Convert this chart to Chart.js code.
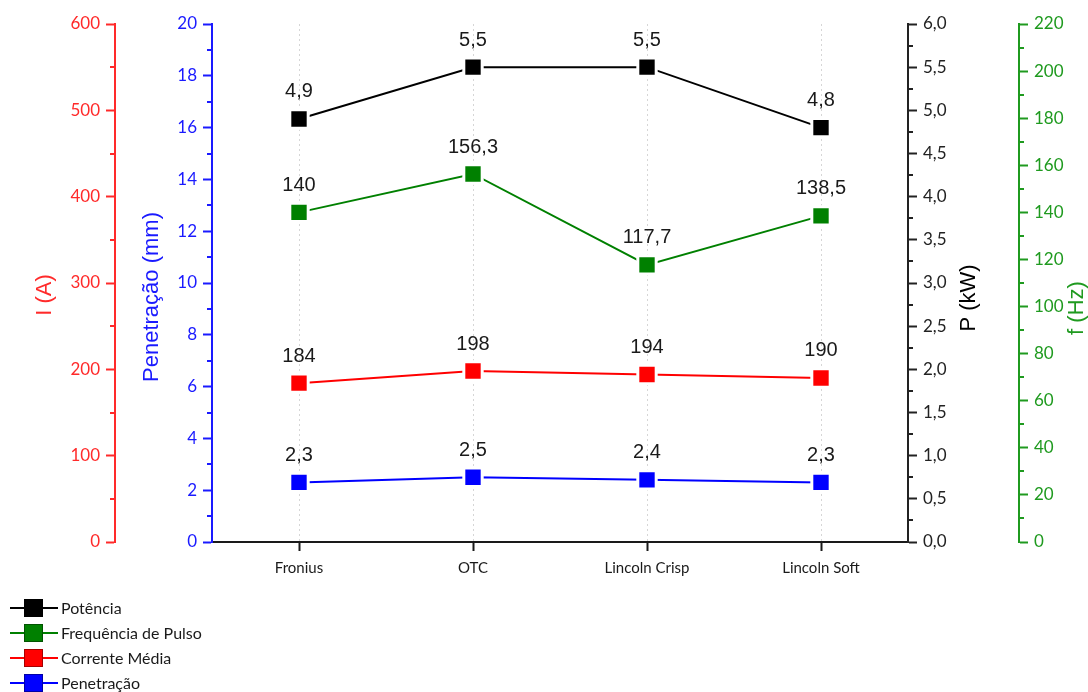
<!DOCTYPE html>
<html>
<head>
<meta charset="utf-8">
<script src="https://cdn.jsdelivr.net/npm/chart.js@4.4.1/dist/chart.umd.min.js"></script>
<style>
  html, body { margin: 0; padding: 0; background: #fff; }
</style>
</head>
<body>
<canvas id="chart" width="1088" height="692"></canvas>
<script>
// data
const categories = ["Fronius", "OTC", "Lincoln Crisp", "Lincoln Soft"];
const potencia = [4.9, 5.5, 5.5, 4.8];          // kW
const frequencia = [140, 156.3, 117.7, 138.5];  // Hz
const corrente = [184, 198, 194, 190];          // A
const penetracao = [2.3, 2.5, 2.4, 2.3];        // mm
const seriesNames = ["Potência", "Frequência de Pulso", "Corrente Média", "Penetração"];

// axis ranges: [min, max, major step, minor step]
const rangeI = [0, 600, 100, 50];
const rangePen = [0, 20, 2, 1];
const rangeP = [0, 6, 0.5, 0.25];
const rangeF = [0, 220, 20, 10];

const RED = "#ff0000", BLUE = "#0000ff", BLACK = "#000000", GREEN = "#008000";
const RED_AX = "#ff2a2a", BLUE_AX = "#1a1aff", BLACK_AX = "#222222", GREEN_AX = "#1f9a1f";
const tickFont = { family: "Lato", size: 17 };
const dec = v => String(v).replace(".", ",");

function yAxis(range, color, position, weight, width, fmt) {
  return {
    type: "linear",
    position: position,
    weight: weight,
    min: range[0],
    max: range[1],
    afterFit: s => { s.width = width; },
    border: { display: true, color: color, width: 2 },
    grid: { drawOnChartArea: false, drawTicks: true, tickLength: 9, tickWidth: 2, tickColor: color },
    ticks: { stepSize: range[2], color: color, font: tickFont, padding: 6, callback: fmt }
  };
}

const minorTicks = {
  id: "minorTicks",
  afterDraw(chart) {
    const ctx = chart.ctx;
    const list = [["yI", rangeI, RED_AX], ["yPen", rangePen, BLUE_AX], ["yP", rangeP, BLACK_AX], ["yF", rangeF, GREEN_AX]];
    ctx.save();
    ctx.lineWidth = 2;
    for (const [id, r, col] of list) {
      const sc = chart.scales[id];
      const left = sc.position === "left";
      const x0 = left ? sc.right : sc.left;
      ctx.strokeStyle = col;
      for (let v = r[0] + r[3]; v < r[1]; v += r[2]) {
        const y = Math.round(sc.getPixelForValue(v));
        ctx.beginPath();
        ctx.moveTo(x0, y);
        ctx.lineTo(left ? x0 - 5 : x0 + 5, y);
        ctx.stroke();
      }
    }
    ctx.restore();
  }
};

const axisTitles = {
  id: "axisTitles",
  afterDraw(chart) {
    const ctx = chart.ctx;
    const titles = [["I (A)", 45, 295, RED_AX], ["Penetração (mm)", 152, 297, BLUE_AX],
                    ["P (kW)", 969, 298, "#000"], ["f (Hz)", 1077, 308, GREEN_AX]];
    ctx.save();
    ctx.font = "22px 'Liberation Sans', Arial, sans-serif";
    ctx.textAlign = "center";
    ctx.textBaseline = "middle";
    for (const [t, x, y, c] of titles) {
      ctx.save();
      ctx.translate(x, y);
      ctx.rotate(-Math.PI / 2);
      ctx.fillStyle = c;
      ctx.fillText(t, 0, 0);
      ctx.restore();
    }
    ctx.restore();
  }
};

const valueLabels = {
  id: "valueLabels",
  afterDatasetsDraw(chart) {
    const ctx = chart.ctx;
    ctx.save();
    ctx.font = "20px 'Liberation Sans', Arial, sans-serif";
    ctx.fillStyle = "#1a1a1a";
    ctx.textAlign = "center";
    ctx.textBaseline = "middle";
    chart.data.datasets.forEach((ds, i) => {
      chart.getDatasetMeta(i).data.forEach((pt, j) => {
        ctx.fillText(dec(ds.data[j]), pt.x, pt.y - 27);
      });
    });
    ctx.restore();
  }
};

const bottomLegend = {
  id: "bottomLegend",
  afterDraw(chart) {
    const ctx = chart.ctx;
    ctx.save();
    ctx.font = "16px Lato, sans-serif";
    ctx.textBaseline = "middle";
    chart.data.datasets.forEach((ds, i) => {
      const y = 608 + i * 25;
      ctx.strokeStyle = ds.borderColor;
      ctx.lineWidth = 2;
      ctx.beginPath();
      ctx.moveTo(10, y);
      ctx.lineTo(58, y);
      ctx.stroke();
      ctx.fillStyle = ds.backgroundColor;
      ctx.fillRect(24, y - 9, 19, 18);
      ctx.lineWidth = 1;
      ctx.strokeStyle = "rgba(0,0,0,0.35)";
      ctx.strokeRect(24.5, y - 8.5, 18, 17);
      ctx.fillStyle = "#1a1a1a";
      ctx.fillText(ds.label, 61, y + 1);
    });
    ctx.restore();
  }
};

function series(label, data, color, axis) {
  return {
    label: label,
    data: data,
    yAxisID: axis,
    borderColor: color,
    backgroundColor: color,
    borderWidth: 2,
    pointStyle: "rect",
    pointRadius: 13,
    pointBorderColor: "#ffffff",
    pointBorderWidth: 3,
    pointBackgroundColor: color,
    tension: 0
  };
}

new Chart(document.getElementById("chart"), {
  type: "line",
  data: {
    labels: categories,
    datasets: [
      series(seriesNames[0], potencia, BLACK, "yP"),
      series(seriesNames[1], frequencia, GREEN, "yF"),
      series(seriesNames[2], corrente, RED, "yI"),
      series(seriesNames[3], penetracao, BLUE, "yPen")
    ]
  },
  options: {
    responsive: false,
    animation: false,
    layout: { padding: { top: 24, left: 0, right: 0, bottom: 0 } },
    plugins: { legend: { display: false }, tooltip: { enabled: false } },
    scales: {
      x: {
        type: "category",
        offset: true,
        afterFit: s => { s.height = 150; },
        border: { display: true, color: "#1a1a1a", width: 2, dash: [2, 3] },
        grid: { offset: false, color: "#d6d6d6", lineWidth: 1, drawTicks: true, tickLength: 9,
                tickWidth: 2, tickColor: "#1a1a1a", tickBorderDash: [] },
        ticks: { color: "#1a1a1a", font: { family: "Lato", size: 15 }, padding: 8 }
      },
      yI: yAxis(rangeI, RED_AX, "left", 2, 115),
      yPen: yAxis(rangePen, BLUE_AX, "left", 1, 97),
      yP: yAxis(rangeP, BLACK_AX, "right", 1, 111, v => v.toFixed(1).replace(".", ",")),
      yF: yAxis(rangeF, GREEN_AX, "right", 2, 69)
    }
  },
  plugins: [minorTicks, axisTitles, valueLabels, bottomLegend]
});
</script>
</body>
</html>
